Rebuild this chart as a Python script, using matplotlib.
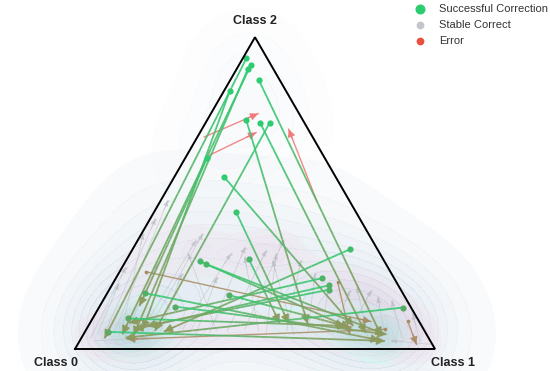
import numpy as np
import matplotlib
matplotlib.use("Agg")
import matplotlib.pyplot as plt
from matplotlib.collections import LineCollection
from matplotlib.patches import FancyArrowPatch
from matplotlib.colors import LinearSegmentedColormap, to_rgb

plt.rcParams['font.family'] = ['Liberation Sans', 'DejaVu Sans']

# probabilities (p_class1, p_class2); p_class0 = 1 - p1 - p2
corr_start = [(0.010, 0.932), (0.033, 0.911), (0.031, 0.899), (0.078, 0.864),
              (0.016, 0.828), (0.108, 0.735), (0.152, 0.725), (0.178, 0.725),
              (0.061, 0.614), (0.138, 0.552), (0.227, 0.440), (0.604, 0.320),
              (0.207, 0.281), (0.226, 0.273), (0.339, 0.288), (0.572, 0.227),
              (0.603, 0.204), (0.610, 0.190), (0.106, 0.179), (0.341, 0.173),
              (0.210, 0.136), (0.845, 0.133), (0.098, 0.098), (0.064, 0.055)]
corr_end = [(0.065, 0.034), (0.108, 0.047), (0.141, 0.044), (0.830, 0.042),
            (0.157, 0.063), (0.606, 0.081), (0.781, 0.052), (0.193, 0.058),
            (0.110, 0.138), (0.736, 0.074), (0.552, 0.083), (0.219, 0.056),
            (0.729, 0.068), (0.837, 0.047), (0.527, 0.083), (0.108, 0.084),
            (0.133, 0.063), (0.162, 0.074), (0.832, 0.028), (0.712, 0.074),
            (0.842, 0.047), (0.122, 0.036), (0.717, 0.074), (0.848, 0.026)]

err_start = [(0.019, 0.680), (0.063, 0.622), (0.434, 0.475), (0.072, 0.248),
             (0.622, 0.215), (0.879, 0.090), (0.830, 0.063)]
err_end = [(0.131, 0.755), (0.156, 0.694), (0.241, 0.705), (0.778, 0.088),
           (0.740, 0.047), (0.941, 0.015), (0.130, 0.031)]

stable_start = [(0.058, 0.047), (0.082, 0.058), (0.099, 0.063), (0.156, 0.047),
                (0.174, 0.068), (0.267, 0.058), (0.348, 0.052), (0.394, 0.058),
                (0.440, 0.063), (0.507, 0.047), (0.559, 0.058), (0.621, 0.052),
                (0.692, 0.047), (0.734, 0.058), (0.791, 0.042), (0.837, 0.047),
                (0.891, 0.036), (0.025, 0.036), (0.039, 0.047), (0.117, 0.047),
                (0.209, 0.058), (0.312, 0.047), (0.364, 0.058), (0.481, 0.058),
                (0.585, 0.047), (0.656, 0.058), (0.945, 0.026), (0.040, 0.026),
                (0.980, 0.015)]
stable_end = [(0.015, 0.416), (0.020, 0.475), (0.005, 0.368), (0.162, 0.347),
              (0.170, 0.368), (0.280, 0.304), (0.309, 0.325), (0.373, 0.314),
              (0.405, 0.347), (0.407, 0.304), (0.486, 0.282), (0.546, 0.240),
              (0.670, 0.186), (0.729, 0.186), (0.685, 0.197), (0.759, 0.165),
              (0.803, 0.154), (0.010, 0.261), (0.017, 0.207), (0.092, 0.272),
              (0.176, 0.240), (0.279, 0.229), (0.163, 0.304), (0.325, 0.293),
              (0.408, 0.282), (0.602, 0.207), (0.883, 0.111), (0.181, 0.036),
              (0.867, 0.026)]

class_names = ["Class 0", "Class 1", "Class 2"]
legend_labels = ["Successful Correction", "Stable Correct", "Error"]

GREEN = "#2ecc71"
OLIVE = "#8c9a5e"
GRAY = "#b9bdc2"
RED = "#f07575"
TAN = "#a88b62"

H = np.sqrt(3) / 2


def to_xy(p):
    p = np.asarray(p, float)
    return p[:, 0] + p[:, 1] / 2, p[:, 1] * H


def mix(c1, c2, w):
    a, b = np.array(to_rgb(c1)), np.array(to_rgb(c2))
    return tuple(a * (1 - w) + b * w)


fig = plt.figure(figsize=(5.5, 3.71), dpi=100)
ax = fig.add_axes([0, 0, 1, 1])
ax.set_xlim(-75 / 360, 475 / 360)
ax.set_ylim(-22 / 360, 349 / 360)
ax.axis('off')

csx, csy = to_xy(corr_start)
cex, cey = to_xy(corr_end)
esx, esy = to_xy(err_start)
eex, eey = to_xy(err_end)
ssx, ssy = to_xy(stable_start)
sex, sey = to_xy(stable_end)

# density halo
gx, gy = np.meshgrid(np.linspace(-0.25, 1.35, 321), np.linspace(-0.1, 1.0, 221))


def kde(xs, ys, bw):
    d = np.zeros_like(gx)
    for xi, yi in zip(xs, ys):
        d += np.exp(-((gx - xi) ** 2 + (gy - yi) ** 2) / (2 * bw ** 2))
    return d / d.max()


all_x = np.concatenate([csx, cex, esx, eex, ssx, sex])
all_y = np.concatenate([csy, cey, esy, eey, ssy, sey])
low = all_y < 0.45
d_all = kde(all_x[low], all_y[low], 0.11)
cm1 = LinearSegmentedColormap.from_list("halo", ["#f3f6f9", "#a6bfd6"])
ax.contourf(gx, gy, d_all, levels=np.linspace(0.04, 1, 12), cmap=cm1, alpha=0.4, zorder=0)

d_top = kde(all_x[~low], all_y[~low], 0.09)
ax.contourf(gx, gy, d_top, levels=np.linspace(0.1, 1, 5), cmap=cm1, alpha=0.08, zorder=0)

d_g = kde(cex, cey, 0.045)
cm2 = LinearSegmentedColormap.from_list("cy", ["#d6fbf3", "#6eecd0"])
ax.contourf(gx, gy, d_g, levels=np.linspace(0.2, 1, 7), cmap=cm2, alpha=0.45, zorder=0)

d_s = kde(np.concatenate([ssx, sex, esx, eex]), np.concatenate([ssy, sey, esy, eey]), 0.05)
cm3 = LinearSegmentedColormap.from_list("pk", ["#f4e6f0", "#e2b4d4"])
ax.contourf(gx, gy, d_s, levels=np.linspace(0.3, 1, 6), cmap=cm3, alpha=0.3, zorder=0)


def head(x0, y0, x1, y1, color, scale, lw, alpha=1.0, z=3):
    dx, dy = x1 - x0, y1 - y0
    n = np.hypot(dx, dy)
    pa = (x1 - dx / n * 0.03, y1 - dy / n * 0.03)
    ax.add_patch(FancyArrowPatch(pa, (x1, y1), arrowstyle='-|>,head_length=0.5,head_width=0.25',
                                 mutation_scale=scale, color=color, lw=lw, alpha=alpha,
                                 shrinkA=0, shrinkB=0, zorder=z))


# stable correct arrows
for x0, y0, x1, y1 in zip(ssx, ssy, sex, sey):
    ax.plot([x0, x1], [y0, y1], color=GRAY, lw=0.6, alpha=0.55, zorder=1)
    head(x0, y0, x1, y1, GRAY, 6, 0.5, 0.6, 1)
    ax.scatter([x1], [y1], s=3, color=GRAY, alpha=0.6, zorder=1, lw=0)

# successful corrections (colour fades along path)
t = np.linspace(0, 1, 30)
for x0, y0, x1, y1 in zip(csx, csy, cex, cey):
    px = x0 + (x1 - x0) * t
    py = y0 + (y1 - y0) * t
    segs = np.stack([np.column_stack([px[:-1], py[:-1]]), np.column_stack([px[1:], py[1:]])], axis=1)
    cols = [mix(GREEN, OLIVE, min(1, tt * 1.1)) for tt in t[:-1]]
    ax.add_collection(LineCollection(segs, colors=cols, lw=1.3, alpha=0.9, zorder=3))
    head(x0, y0, x1, y1, mix(GREEN, OLIVE, 1), 10, 1.0, 0.9)
for x0, y0 in zip(csx, csy):
    w = np.clip((0.45 - y0) / 0.35, 0, 1) * 0.7
    ax.scatter([x0], [y0], s=20, color=mix(GREEN, "#6d9a5e", w), zorder=4, lw=0)

# errors
for x0, y0, x1, y1 in zip(esx, esy, eex, eey):
    w = np.clip((0.42 - max(y0, y1)) / 0.2, 0, 1)
    c = mix(RED, TAN, w)
    ax.plot([x0, x1], [y0, y1], color=c, lw=1.0, alpha=0.85, zorder=2)
    head(x0, y0, x1, y1, c, 9, 0.8, 0.85, 2)
    if w > 0.5:
        ax.scatter([x0], [y0], s=7, color=c, zorder=2, lw=0)

# triangle frame
ax.plot([0, 1, 0.5, 0], [0, 0, H, 0], color='black', lw=1.4, zorder=5, solid_joinstyle='miter')

ax.text(-0.052, -0.038, class_names[0], ha='center', va='center', fontsize=9,
        fontweight='bold', color='#222222')
ax.text(1.049, -0.038, class_names[1], ha='center', va='center', fontsize=9,
        fontweight='bold', color='#222222')
ax.text(0.4986, 0.911, class_names[2], ha='center', va='center', fontsize=9,
        fontweight='bold', color='#222222')

# legend
leg_colors = [GREEN, "#c2c5ca", "#e8503f"]
leg_sizes = [6.2, 4.6, 4.6]
for i, (lab, c, ms) in enumerate(zip(legend_labels, leg_colors, leg_sizes)):
    yy = 1 - (9.3 + 15.7 * i) / 371
    ax.plot([420 / 550], [yy], 'o', color=c, ms=ms, transform=fig.transFigure,
            clip_on=False, zorder=6)
    fig.text(439 / 550, yy, lab, ha='left', va='center', fontsize=8, color='#333333')

fig.savefig("out.png", dpi=100)
